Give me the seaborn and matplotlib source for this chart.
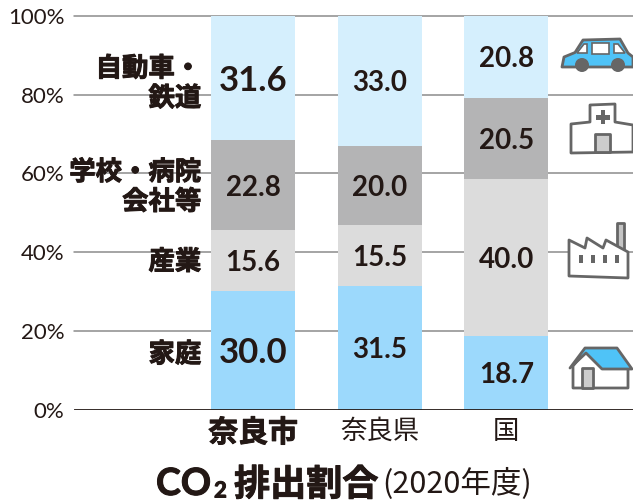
import matplotlib
matplotlib.use('Agg')
import matplotlib.pyplot as plt
import matplotlib.patheffects as pe
from matplotlib.patches import Polygon, Rectangle, Circle
import seaborn as sns
import pandas as pd

regions = ['奈良市', '奈良県', '国']
home = [30.0, 31.5, 18.7]
industry = [15.6, 15.5, 40.0]
office = [22.8, 20.0, 20.5]
transport = [31.6, 33.0, 20.8]
sector_values = [home, industry, office, transport]
sector_colors = ['#9cd9fc', '#dcdcdc', '#b4b4b5', '#d5effd']
sector_labels = ['家庭', '産業', '学校・病院\n会社等', '自動車・\n鉄道']
yticks = [0, 20, 40, 60, 80, 100]

JP = ['Noto Sans CJK JP', 'DejaVu Sans']
NUM = ['Lato', 'Noto Sans CJK JP']
DARK = '#231815'

sns.set_style('white')
plt.rcParams['font.family'] = JP

fig = plt.figure(figsize=(6.33, 5.04), dpi=100)
ax = fig.add_axes([74 / 633, 1 - 409.5 / 504, 559 / 633, 393.5 / 504])

bottom = [0, 0, 0]
for vals, col in zip(sector_values, sector_colors):
    df = pd.DataFrame({'region': regions, 'value': vals})
    sns.barplot(data=df, x='region', y='value', color=col, saturation=1, width=0.665,
                bottom=bottom, ax=ax, zorder=3, linewidth=0)
    for i, v in enumerate(vals):
        big = i == 0 and v in (30.0, 31.6)
        ax.annotate(f'{v:.1f}', (i, bottom[i] + v / 2), xytext=(0, -1.8), textcoords='offset points',
                    ha='center', va='center', zorder=5, color=DARK, family=NUM,
                    fontweight='bold', fontsize=25 if big else 20)
    bottom = [b + v for b, v in zip(bottom, vals)]

ax.set_xlim(-1.415, 3.0)
ax.set_ylim(0, 100)
ax.set_yticks(yticks)
ax.set_yticklabels([f'{t}%' for t in yticks], family=NUM, fontsize=16, color=DARK)
ax.tick_params(axis='y', length=0, pad=7)
ax.tick_params(axis='x', length=0, pad=6)
ax.set_xlabel('')
ax.set_ylabel('')
ax.set_xticks(range(3))
ax.set_xticklabels(regions, fontsize=19, color=DARK)
heavy = [pe.withStroke(linewidth=0.7, foreground=DARK)]
ax.get_xticklabels()[0].set_fontweight('bold')
ax.get_xticklabels()[0].set_fontsize(21.5)
ax.get_xticklabels()[0].set_path_effects(heavy)
for t in yticks[1:]:
    ax.axhline(t, color='#8c8c8c', lw=1.1, zorder=1, clip_on=False)
ax.axhline(0, color=DARK, lw=2, zorder=6)
for s in ax.spines.values():
    s.set_visible(False)

# left hand sector names, centred on the 奈良市 segments
b = 0
for v, lab, dy in zip([row[0] for row in sector_values], sector_labels, [-3, -1, -1.5, -4]):
    ax.annotate(lab, (-0.41, b + v / 2), xytext=(0, dy), textcoords='offset points',
                ha='right', va='center', multialignment='right', zorder=4,
                color=DARK, fontweight='bold', fontsize=19, linespacing=1.13, path_effects=heavy)
    b += v

# overlay in pixel coordinates for the icons and the title
ov = fig.add_axes([0, 0, 1, 1], facecolor='none')
ov.set_xlim(0, 633)
ov.set_ylim(504, 0)
ov.axis('off')

LINE = '#666666'
kw = dict(edgecolor=LINE, lw=2, joinstyle='round')
# car
ov.add_patch(Polygon([(562, 67), (564, 57), (575, 52.5), (583, 40), (620, 39), (628, 53), (633, 57), (633, 67)],
                     facecolor='#4fc3f7', **kw))
ov.add_patch(Polygon([(577, 53), (584, 44), (587, 44), (587, 53)], facecolor='white', edgecolor=LINE, lw=1.2))
ov.add_patch(Rectangle((592, 43), 17, 11, facecolor='white', edgecolor=LINE, lw=1.2))
ov.add_patch(Polygon([(614, 44), (618, 44), (625, 53), (614, 53)], facecolor='white', edgecolor=LINE, lw=1.2))
ov.add_patch(Circle((582, 65), 7, facecolor=LINE, edgecolor='none'))
ov.add_patch(Circle((618, 65), 7, facecolor=LINE, edgecolor='none'))
# hospital
ov.add_patch(Polygon([(571, 124), (590, 122), (590, 105), (615, 104), (615, 122), (633, 125), (633, 152), (571, 153)],
                     facecolor='white', **kw))
ov.add_patch(Rectangle((595, 134), 15, 18, facecolor='#cccccc', **kw))
ov.add_patch(Rectangle((596, 115), 14, 4.5, facecolor=LINE, edgecolor='none'))
ov.add_patch(Rectangle((600.7, 110), 4.5, 14, facecolor=LINE, edgecolor='none'))
# factory
ov.add_patch(Rectangle((617, 223), 7, 26, facecolor='#c4c4c4', **kw))
ov.add_patch(Polygon([(569, 240), (585, 248), (587, 238), (603, 248), (606, 240), (628, 252), (628, 278), (569, 276)],
                     facecolor='white', **kw))
for wx in [579, 591, 603, 615]:
    ov.add_patch(Rectangle((wx, 255), 4, 8, facecolor=LINE, edgecolor='none'))
# house
ov.add_patch(Polygon([(573, 366), (573, 388), (628, 388), (628, 366), (602, 366), (586, 350)], facecolor='white', **kw))
ov.add_patch(Polygon([(570, 368), (585, 348), (617, 348), (632, 369), (602, 369), (586, 353)], facecolor='#4fc3f7', **kw))
ov.add_patch(Rectangle((582, 368), 11, 20, facecolor='#cccccc', **kw))

# title, set piece by piece because the weights and sizes change
ov.text(156, 484, 'CO', ha='left', va='center', fontsize=27, fontweight='bold', color=DARK, family=NUM, path_effects=heavy)
ov.text(214, 491, '2', ha='left', va='center', fontsize=16, fontweight='bold', color=DARK, family=NUM, path_effects=heavy)
ov.text(234, 485, '排出割合', ha='left', va='center', fontsize=26, fontweight='bold', color=DARK, path_effects=heavy)
ov.text(382, 484, '(2020年度)', ha='left', va='center', fontsize=22, color=DARK)

fig.savefig('out.png', dpi=100)
